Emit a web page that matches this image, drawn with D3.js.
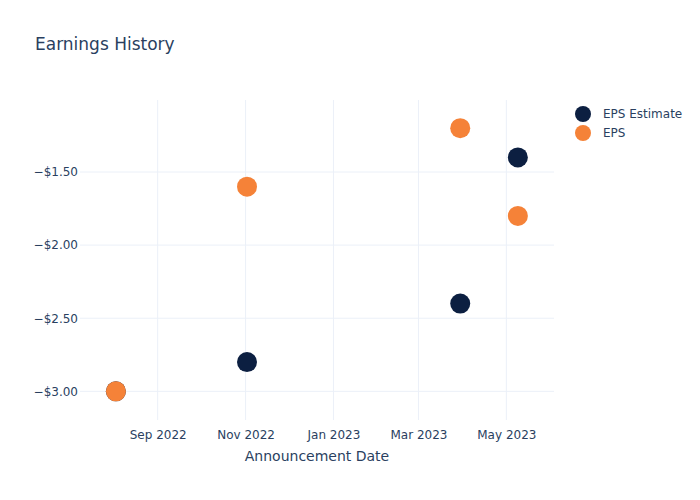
<!DOCTYPE html>
<html><head><meta charset="utf-8">
<script src="https://cdn.jsdelivr.net/npm/d3@7"></script>
<style>body{margin:0;background:#fff;} text{font-family:"DejaVu Sans",verdana,arial,sans-serif;}</style>
</head><body>
<script>
const dates = ["2022-08-03","2022-11-02","2023-03-30","2023-05-09"];
const epsEstimate = [-3.0, -2.8, -2.4, -1.4];
const eps = [-3.0, -1.6, -1.2, -1.8];
const seriesNames = ["EPS Estimate", "EPS"];
const seriesColors = ["#0c1f41", "#f58238"];
const yTicks = [-3.0, -2.5, -2.0, -1.5];
const xTicks = ["2022-09-01","2022-11-01","2023-01-01","2023-03-01","2023-05-01"];

const FONT = '"DejaVu Sans",verdana,arial,sans-serif';
const W = 700, H = 500;
const m = {l:80, r:146, t:100, b:80};
const svg = d3.select("body").append("svg").attr("width", W).attr("height", H);
const parse = d3.utcParse("%Y-%m-%d");

const x = d3.scaleUtc()
  .domain([new Date(Date.UTC(2022,6,9,2)), new Date(Date.UTC(2023,5,3,2))])
  .range([m.l, W - m.r]);
const y = d3.scaleLinear().domain([-3.196, -1.0075]).range([H - m.b, m.t]);

const grid = svg.append("g");
grid.selectAll("line.v").data(xTicks).join("line")
  .attr("x1", d => x(parse(d))).attr("x2", d => x(parse(d)))
  .attr("y1", m.t).attr("y2", H - m.b)
  .attr("stroke", "#ebf0f8").attr("stroke-width", 1);
grid.selectAll("line.h").data(yTicks).join("line")
  .attr("x1", m.l).attr("x2", W - m.r)
  .attr("y1", d => y(d)).attr("y2", d => y(d))
  .attr("stroke", "#ebf0f8").attr("stroke-width", 1);

const fmtY = d => "\u2212$" + Math.abs(d).toFixed(2);
const yAxis = d3.axisLeft(y).tickValues(yTicks).tickFormat(fmtY).tickSize(0).tickPadding(2);
const gy = svg.append("g").attr("transform", `translate(${m.l},0)`).call(yAxis);
gy.select(".domain").remove();
gy.selectAll("text").attr("font-size", 12).attr("fill", "#2a3f5f").attr("font-family", FONT);

const xAxis = d3.axisBottom(x).tickValues(xTicks.map(parse)).tickFormat(d3.utcFormat("%b %Y")).tickSize(0).tickPadding(10);
const gx = svg.append("g").attr("transform", `translate(0,${H - m.b})`).call(xAxis);
gx.select(".domain").remove();
gx.selectAll("text").attr("font-size", 12).attr("fill", "#2a3f5f").attr("font-family", FONT);

svg.append("text").attr("x", (m.l + W - m.r)/2).attr("y", 461).attr("text-anchor", "middle")
  .attr("font-size", 14).attr("fill", "#2a3f5f").attr("font-family", FONT).text("Announcement Date");

svg.append("text").attr("x", 35).attr("y", 50).attr("font-size", 17).attr("fill", "#2a3f5f").attr("font-family", FONT).text("Earnings History");

const series = [epsEstimate, eps];
series.forEach((vals, i) => {
  svg.append("g").selectAll("circle").data(vals).join("circle")
    .attr("cx", (d, j) => x(parse(dates[j])))
    .attr("cy", d => y(d))
    .attr("r", 10)
    .attr("fill", seriesColors[i]);
});

const leg = svg.append("g");
seriesNames.forEach((n, i) => {
  const ly = 114 + i * 19;
  leg.append("circle").attr("cx", 583).attr("cy", ly).attr("r", 8).attr("fill", seriesColors[i]);
  leg.append("text").attr("x", 603).attr("y", ly + 4).attr("font-size", 12).attr("fill", "#2a3f5f").attr("font-family", FONT).text(n);
});
</script>
</body></html>
